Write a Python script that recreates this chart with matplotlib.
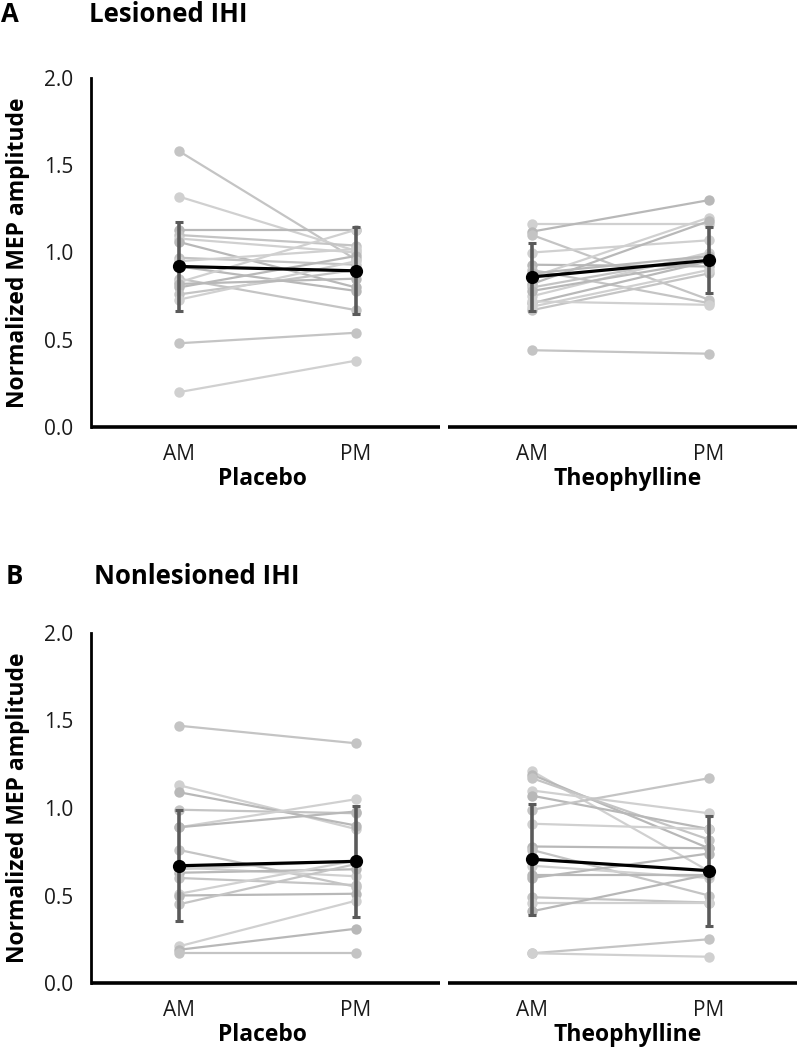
import matplotlib
matplotlib.use("Agg")
import matplotlib.pyplot as plt
import numpy as np

# ---------------- data ----------------
conditions = ["Placebo", "Theophylline"]
sessions = ["AM", "PM"]
y_ticks = [0.0, 0.5, 1.0, 1.5, 2.0]

# Panel A: Lesioned IHI (individual subjects, AM -> PM)
lesioned_placebo_am = [1.58, 1.32, 1.13, 1.10, 1.08, 1.06, 0.97, 0.95, 0.92, 0.85, 0.83, 0.80, 0.76, 0.73, 0.82, 0.48, 0.20]
lesioned_placebo_pm = [0.96, 1.01, 1.13, 1.04, 1.00, 0.80, 0.93, 1.02, 0.78, 0.67, 1.13, 0.98, 0.90, 0.95, 0.85, 0.54, 0.38]
lesioned_theo_am = [1.165, 1.12, 1.10, 1.00, 0.93, 0.90, 0.86, 0.82, 0.80, 0.75, 0.71, 0.67, 0.69, 0.78, 0.44, 0.72, 0.88]
lesioned_theo_pm = [1.165, 1.30, 0.73, 1.07, 0.92, 0.71, 1.20, 1.18, 0.98, 1.00, 0.95, 0.88, 0.90, 0.95, 0.42, 0.70, 0.98]
lesioned_mean = [0.92, 0.895, 0.86, 0.955]     # Placebo AM, PM, Theo AM, PM
lesioned_err = [0.253, 0.249, 0.193, 0.189]

# Panel B: Nonlesioned IHI
nonles_placebo_am = [1.47, 1.13, 1.09, 0.99, 0.89, 0.89, 0.76, 0.66, 0.63, 0.60, 0.51, 0.50, 0.45, 0.21, 0.19, 0.17, 0.65]
nonles_placebo_pm = [1.37, 0.88, 0.90, 0.97, 1.05, 0.98, 0.55, 0.61, 0.65, 0.56, 0.70, 0.51, 0.68, 0.47, 0.31, 0.17, 0.70]
nonles_theo_am = [1.21, 1.19, 1.17, 1.10, 1.07, 0.99, 0.91, 0.78, 0.76, 0.67, 0.60, 0.49, 0.46, 0.41, 0.17, 0.17, 0.62]
nonles_theo_pm = [0.64, 0.77, 0.82, 0.97, 0.88, 1.17, 0.88, 0.77, 0.50, 0.60, 0.74, 0.46, 0.46, 0.62, 0.25, 0.15, 0.62]
nonles_mean = [0.67, 0.695, 0.707, 0.642]
nonles_err = [0.318, 0.316, 0.316, 0.315]

# ---------------- styling ----------------
plt.rcParams["font.family"] = ["Open Sans", "DejaVu Sans"]
GRAYS = ["#c4c4c4", "#d0d0d0", "#b8b8b8"]
ERR_COLOR = "#5a5a5a"
TICK_FS = 15
LABEL_FS = 16.5
TITLE_FS = 18.5

fig = plt.figure(figsize=(7.97, 10.5), dpi=100)


def draw_panel(ax, pl_am, pl_pm, th_am, th_pm, means, errs):
    positions = [0, 1, 2, 3]
    for i, (a, p) in enumerate(zip(pl_am, pl_pm)):
        ax.plot([positions[0], positions[1]], [a, p], color=GRAYS[i % 3], lw=1.6,
                marker="o", ms=7.5, mec="none", zorder=2)
    for i, (a, p) in enumerate(zip(th_am, th_pm)):
        ax.plot([positions[2], positions[3]], [a, p], color=GRAYS[(i + 1) % 3], lw=1.6,
                marker="o", ms=7.5, mec="none", zorder=2)
    ax.errorbar(positions, means, yerr=errs, fmt="none", ecolor=ERR_COLOR,
                elinewidth=2.6, capsize=3.2, capthick=2.2, zorder=3)
    for seg in ([0, 1], [2, 3]):
        ax.plot(seg, [means[k] for k in seg], color="black", lw=2.3,
                marker="o", ms=8.5, zorder=4)

    ax.set_xlim(-0.5, 3.5)
    ax.set_ylim(0, 2.0)
    ax.set_yticks(y_ticks)
    ax.set_yticklabels([f"{t:.1f}" for t in y_ticks], fontsize=TICK_FS, color="#1a1a1a")
    ax.tick_params(axis="y", length=0, pad=13)
    ax.set_xticks(positions)
    ax.set_xticklabels(sessions * 2, fontsize=TICK_FS, color="#1a1a1a")
    ax.tick_params(axis="x", length=0, pad=12)
    for s in ["top", "right", "bottom"]:
        ax.spines[s].set_visible(False)
    ax.spines["left"].set_linewidth(2.0)
    ax.spines["left"].set_color("black")
    # split x axis line
    ax.plot([-0.5, 1.48], [0, 0], color="black", lw=2.6, clip_on=False,
            solid_capstyle="butt", zorder=5)
    ax.plot([1.525, 3.5], [0, 0], color="black", lw=2.6, clip_on=False,
            solid_capstyle="butt", zorder=5)
    ax.text(0.47, -0.297, conditions[0], ha="center", va="center",
            fontsize=LABEL_FS, fontweight="bold", transform=ax.transData, clip_on=False)
    ax.text(2.54, -0.297, conditions[1], ha="center", va="center",
            fontsize=LABEL_FS, fontweight="bold", transform=ax.transData, clip_on=False)
    ax.set_ylabel("Normalized MEP amplitude", fontsize=LABEL_FS, fontweight="bold", labelpad=10)


W, H = 797, 1050
axA = fig.add_axes([91 / W, 1 - 427 / H, (797 - 91) / W, (427 - 78) / H])
draw_panel(axA, lesioned_placebo_am, lesioned_placebo_pm, lesioned_theo_am,
           lesioned_theo_pm, lesioned_mean, lesioned_err)
axB = fig.add_axes([91 / W, 1 - 983 / H, (797 - 91) / W, (983 - 633) / H])
draw_panel(axB, nonles_placebo_am, nonles_placebo_pm, nonles_theo_am,
           nonles_theo_pm, nonles_mean, nonles_err)

fig.text(1 / W, 1 - 14 / H, "A", fontsize=TITLE_FS, fontweight="bold", va="center", ha="left")
fig.text(89 / W, 1 - 14 / H, "Lesioned IHI", fontsize=TITLE_FS, fontweight="bold", va="center", ha="left")
fig.text(6 / W, 1 - 577 / H, "B", fontsize=TITLE_FS, fontweight="bold", va="center", ha="left")
fig.text(94 / W, 1 - 577 / H, "Nonlesioned IHI", fontsize=TITLE_FS, fontweight="bold", va="center", ha="left")

fig.savefig("out.png", dpi=100)
